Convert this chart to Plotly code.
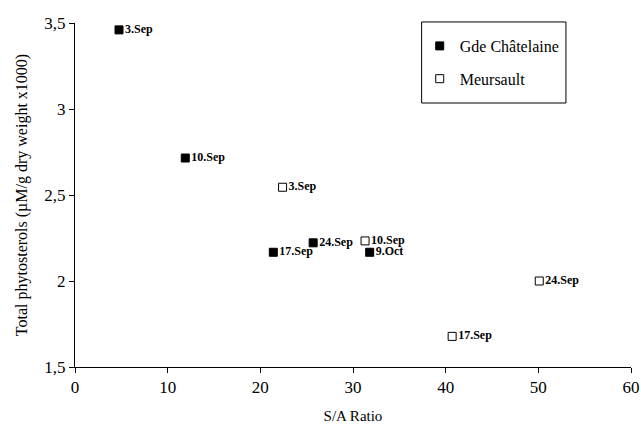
import plotly.graph_objects as go

# Data
gde_x = [4.75, 11.9, 21.4, 25.7, 31.8]
gde_y = [3.46, 2.715, 2.167, 2.222, 2.167]
gde_labels = ["3.Sep", "10.Sep", "17.Sep", "24.Sep", "9.Oct"]

meu_x = [22.4, 31.3, 40.7, 50.1]
meu_y = [2.545, 2.233, 1.678, 2.0]
meu_labels = ["3.Sep", "10.Sep", "17.Sep", "24.Sep"]

x_ticks = [0, 10, 20, 30, 40, 50, 60]
y_ticks = [1.5, 2, 2.5, 3, 3.5]
y_ticktext = ["1,5", "2", "2,5", "3", "3,5"]

FONT = "Liberation Serif, Times New Roman, serif"

fig = go.Figure()
fig.add_trace(go.Scatter(
    x=gde_x, y=gde_y, mode="markers+text", name="Gde Châtelaine",
    text=["<b>%s</b>" % t for t in gde_labels], textposition="middle right",
    textfont=dict(family=FONT, size=12, color="black"),
    marker=dict(symbol="square", size=8, color="black",
                line=dict(color="black", width=1)),
    legendgroup="g1", cliponaxis=False,
))
fig.add_trace(go.Scatter(
    x=meu_x, y=meu_y, mode="markers+text", name="Meursault",
    text=["<b>%s</b>" % t for t in meu_labels], textposition="middle right",
    textfont=dict(family=FONT, size=12, color="black"),
    marker=dict(symbol="square-open", size=8, color="black",
                line=dict(color="black", width=1)),
    legendgroup="g2", cliponaxis=False,
))

# legend frame
fig.add_shape(type="rect", xref="paper", yref="paper",
              x0=0.6234, x1=0.883, y0=0.7674, y1=1.003,
              line=dict(color="black", width=1), fillcolor="rgba(0,0,0,0)",
              layer="above")

fig.update_layout(
    width=641, height=429,
    margin=dict(l=75, r=10, t=23, b=62, autoexpand=False),
    paper_bgcolor="white", plot_bgcolor="white",
    font=dict(family=FONT, color="black", size=14),
    showlegend=True,
    legend=dict(
        x=0.62, y=0.9826, xanchor="left", yanchor="top",
        borderwidth=0, bgcolor="rgba(0,0,0,0)",
        font=dict(family=FONT, size=16, color="black"),
        traceorder="grouped", tracegroupgap=9,
        itemsizing="trace", itemwidth=30,
    ),
    xaxis=dict(
        range=[0, 60], tickvals=x_ticks, showgrid=False, zeroline=False,
        showline=True, linecolor="black", linewidth=1,
        ticks="outside", ticklen=5, tickcolor="black",
        tickfont=dict(family=FONT, size=17), automargin=False,
        title=dict(text="S/A Ratio", font=dict(family=FONT, size=15), standoff=14),
    ),
    yaxis=dict(
        range=[1.5, 3.5], tickvals=y_ticks, ticktext=y_ticktext,
        showgrid=False, zeroline=False,
        showline=True, linecolor="black", linewidth=1,
        ticks="outside", ticklen=5, tickcolor="black",
        tickfont=dict(family=FONT, size=17), automargin=False,
        title=dict(text="Total phytosterols (µM/g dry weight x1000)",
                   font=dict(family=FONT, size=16), standoff=12),
    ),
)

fig.write_html("out.html", config={"displayModeBar": False},
               post_script="document.body.style.margin='0';document.body.style.padding='0';")
